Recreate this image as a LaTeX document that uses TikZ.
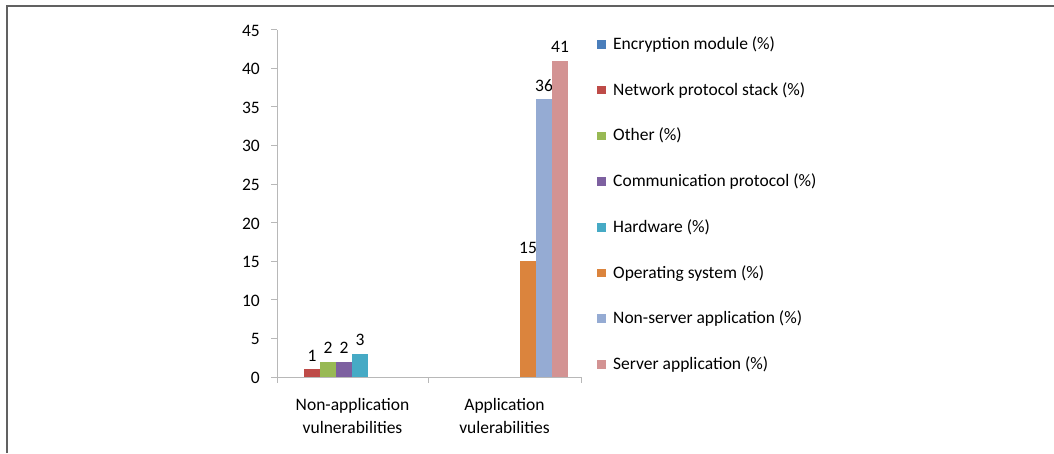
\documentclass[tikz,border=0pt]{standalone}
\usepackage{fontspec}
\setmainfont{Carlito}
\definecolor{sEnc}{HTML}{4A7EBB}
\definecolor{sNet}{HTML}{BE4B48}
\definecolor{sOth}{HTML}{98B954}
\definecolor{sCom}{HTML}{7D60A0}
\definecolor{sHw}{HTML}{46AAC5}
\definecolor{sOs}{HTML}{DB843D}
\definecolor{sNsa}{HTML}{95ABD3}
\definecolor{sSa}{HTML}{D39393}
\begin{document}
\begin{tikzpicture}[x=1pt,y=-1pt,
  frame/.style={draw=black!62, line width=2pt},
  axisline/.style={draw=black!28, line width=0.9pt},
  txt/.style={font=\fontsize{17.5}{23}\selectfont, inner sep=0pt, text=black},
  swatch/.style={minimum size=8.5pt, inner sep=0pt, anchor=north west}]
\useasboundingbox (0,0) rectangle (1054,453);
\fill[white] (0,0) rectangle (1054,453);
% outer frame (top and left edges)
\draw[frame] (6.5,453) -- (6.5,5.5) -- (1054,5.5);
% value axis with ticks and labels
\draw[axisline] (277,377) -- (277,30);
\foreach \v in {0,5,...,45}{
  \draw[axisline] (271,{377-7.717*\v}) -- (277,{377-7.717*\v});
  \node[txt, anchor=base east] (yl\v) at (260,{383.5-7.717*\v}) {\v};
}
% category axis with ticks
\draw[axisline] (277,377) -- (581,377);
\foreach \x in {277,428,581}{
  \draw[axisline] (\x,377) -- (\x,383);
}
% bars: name, left edge, value, colour
\foreach \n/\x/\v/\c in {a1/304/1/sNet, a2/320/2/sOth, a3/336/2/sCom, a4/352/3/sHw,
                          b1/520/15/sOs, b2/536/36/sNsa, b3/552/41/sSa}{
  \fill[\c] (\x,377) rectangle ({\x+16},{377-7.717*\v});
  \node[txt, anchor=base] (v\n) at ({\x+8},{377-7.717*\v-8}) {\v};
}
% category labels (base anchor sits on the last line)
\node[txt, anchor=base, align=center] (catA) at (352.5,433) {Non-application\\vulnerabilities};
\node[txt, anchor=base, align=center] (catB) at (504.5,433) {Application\\vulerabilities};
% legend
\foreach \i/\c/\t in {0/sEnc/Encryption module (\%), 1/sNet/Network protocol stack (\%),
                      2/sOth/Other (\%), 3/sCom/Communication protocol (\%),
                      4/sHw/Hardware (\%), 5/sOs/Operating system (\%),
                      6/sNsa/Non-server application (\%), 7/sSa/Server application (\%)}{
  \node[swatch, fill=\c] (sw\i) at (597,{40+45.7*\i}) {};
  \node[txt, anchor=base west] (lg\i) at (613,{49.5+45.7*\i}) {\t};
}
\end{tikzpicture}
\end{document}
